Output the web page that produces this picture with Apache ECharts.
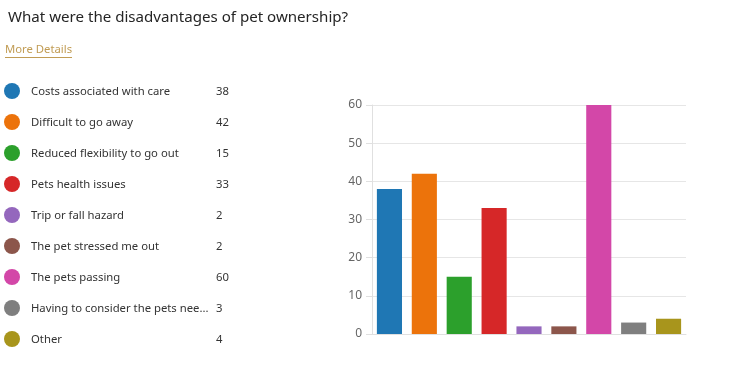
<!DOCTYPE html>
<html>
<head>
<meta charset="utf-8">
<script src="https://cdn.jsdelivr.net/npm/echarts@6/dist/echarts.min.js"></script>
<style>
html,body{margin:0;padding:0;background:#fff;}
#chart{width:744px;height:371px;}
</style>
</head>
<body>
<div id="chart"></div>
<script>
const titleText = "What were the disadvantages of pet ownership?";
const linkText = "More Details";
const categories = [
  "Costs associated with care",
  "Difficult to go away",
  "Reduced flexibility to go out",
  "Pets health issues",
  "Trip or fall hazard",
  "The pet stressed me out",
  "The pets passing",
  "Having to consider the pets nee...",
  "Other"
];
const values = [38, 42, 15, 33, 2, 2, 60, 3, 4];
const colors = ["#1f77b4", "#ec730b", "#2ca02c", "#d62728", "#9467bd", "#8c564b", "#d347a8", "#7f7f7f", "#a8951c"];
const yTicks = [0, 10, 20, 30, 40, 50, 60];

const FONT = "'Noto Sans', 'Open Sans', sans-serif";
const chart = echarts.init(document.getElementById('chart'), null, {renderer: 'canvas'});

const graphics = [
  {type: 'text', x: 8, y: 18, style: {text: titleText, font: "15.1px " + FONT, fill: '#252525', verticalAlign: 'middle'}},
  {type: 'text', x: 5, y: 50, style: {text: linkText, font: "11.3px " + FONT, fill: '#c19c54', verticalAlign: 'middle'}},
  {type: 'line', shape: {x1: 5, y1: 57.5, x2: 72, y2: 57.5}, style: {stroke: '#c19c54', lineWidth: 1}}
];
categories.forEach((c, i) => {
  const cy = 91 + 31 * i;
  graphics.push({type: 'circle', shape: {cx: 12, cy: cy, r: 8}, style: {fill: colors[i]}});
  graphics.push({type: 'text', x: 31, y: cy + 0.5, style: {text: c, font: "11.3px " + FONT, fill: '#333', verticalAlign: 'middle'}});
  graphics.push({type: 'text', x: 216, y: cy + 0.5, style: {text: String(values[i]), font: "11.3px " + FONT, fill: '#333', verticalAlign: 'middle'}});
});

chart.setOption({
  animation: false,
  graphic: graphics,
  grid: {left: 372, right: 58, top: 105, bottom: 37, containLabel: false},
  xAxis: {
    type: 'category',
    data: categories,
    axisLine: {show: true, lineStyle: {color: '#e0e0e0'}},
    axisTick: {show: false},
    axisLabel: {show: false}
  },
  yAxis: {
    type: 'value',
    min: yTicks[0],
    max: yTicks[yTicks.length - 1],
    interval: 10,
    axisLine: {show: true, lineStyle: {color: '#e0e0e0'}},
    axisTick: {show: true, length: 6, lineStyle: {color: '#e0e0e0'}},
    splitLine: {show: true, lineStyle: {color: '#e6e6e6'}},
    axisLabel: {color: '#666', fontSize: 12, fontFamily: FONT, margin: 10}
  },
  series: [{
    type: 'bar',
    data: values.map((v, i) => ({value: v, itemStyle: {color: colors[i]}})),
    barCategoryGap: '28%'
  }]
});
</script>
</body>
</html>
